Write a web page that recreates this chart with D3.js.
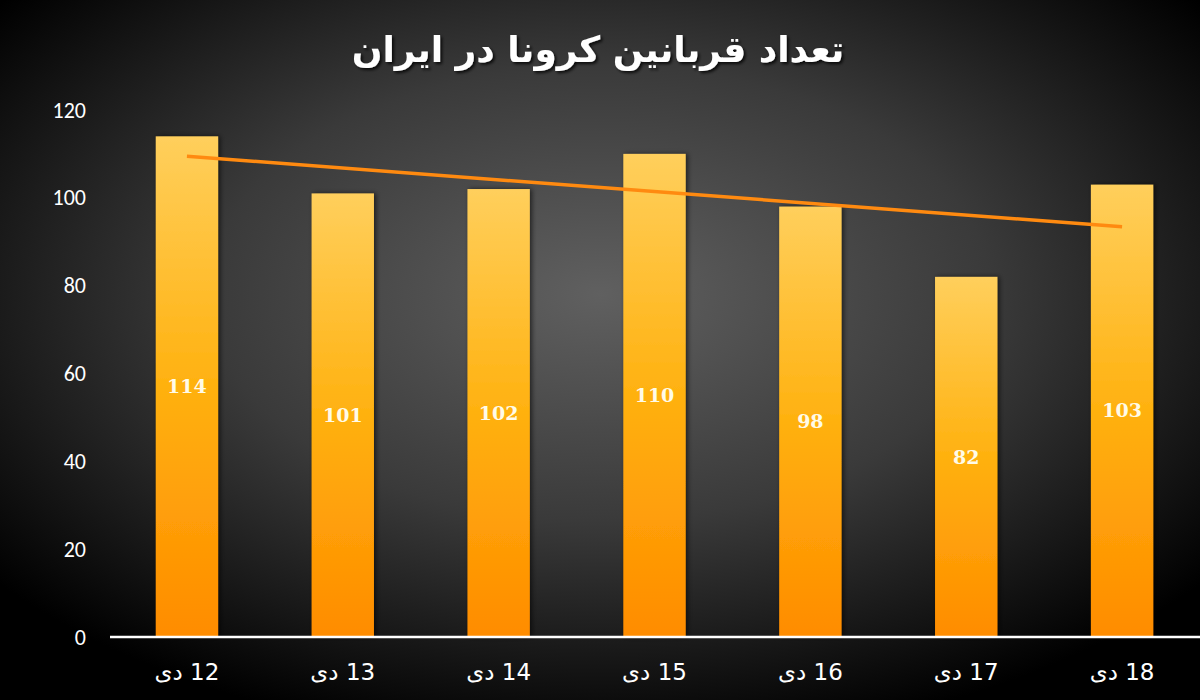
<!DOCTYPE html>
<html>
<head>
<meta charset="utf-8">
<script src="https://cdn.jsdelivr.net/npm/d3@7"></script>
<style>
  html, body { margin: 0; padding: 0; background: #000; }
  svg { display: block; }
</style>
</head>
<body>
<div id="chart"></div>
<script>
// data
const days = ['12 دی', '13 دی', '14 دی', '15 دی', '16 دی', '17 دی', '18 دی'];
const deaths = [114, 101, 102, 110, 98, 82, 103];
const yTicks = [0, 20, 40, 60, 80, 100, 120];
const title = 'تعداد قربانین کرونا در ایران';

const width = 1200;
const height = 700;

const svg = d3.select('#chart')
    .append('svg')
    .attr('width', width)
    .attr('height', height);

const defs = svg.append('defs');

const bg = defs.append('radialGradient')
    .attr('id', 'bg')
    .attr('cx', '50%').attr('cy', '42%')
    .attr('r', '65%');
bg.append('stop').attr('offset', '0%').attr('stop-color', '#606060');
bg.append('stop').attr('offset', '50%').attr('stop-color', '#3a3a3a');
bg.append('stop').attr('offset', '100%').attr('stop-color', '#000');

const barGrad = defs.append('linearGradient')
    .attr('id', 'barGrad')
    .attr('x1', 0).attr('y1', 0).attr('x2', 0).attr('y2', 1);
barGrad.append('stop').attr('offset', '0%').attr('stop-color', '#ffcf5c');
barGrad.append('stop').attr('offset', '50%').attr('stop-color', '#ffb10f');
barGrad.append('stop').attr('offset', '100%').attr('stop-color', '#ff8c00');

const shadow = defs.append('filter')
    .attr('id', 'shadow')
    .attr('x', '-20%').attr('y', '-20%')
    .attr('width', '140%').attr('height', '140%');
shadow.append('feDropShadow')
    .attr('dx', 2).attr('dy', 0)
    .attr('stdDeviation', 2.5)
    .attr('flood-color', '#000')
    .attr('flood-opacity', 0.6);

const textShadow = defs.append('filter').attr('id', 'textShadow');
textShadow.append('feDropShadow')
    .attr('dx', 2).attr('dy', 2)
    .attr('stdDeviation', 1.5)
    .attr('flood-color', '#000')
    .attr('flood-opacity', 0.8);

svg.append('rect')
    .attr('width', width)
    .attr('height', height)
    .attr('fill', 'url(#bg)');

const x = d3.scaleBand()
    .domain(days)
    .range([109, 1200])
    .paddingInner(0.6)
    .paddingOuter(0.3);

const y = d3.scaleLinear()
    .domain([0, 120])
    .range([637, 110]);

// y axis labels
const yAxis = svg.append('g')
    .attr('transform', 'translate(86,0)')
    .call(d3.axisLeft(y).tickValues(yTicks).tickSize(0).tickPadding(0));
yAxis.select('.domain').remove();
yAxis.selectAll('text')
    .attr('fill', '#fff')
    .style('font-family', 'Carlito, "Open Sans", sans-serif')
    .style('font-size', '22px');

// bars
svg.append('g')
    .selectAll('rect')
    .data(deaths)
    .join('rect')
    .attr('x', (d, i) => x(days[i]))
    .attr('y', d => y(d))
    .attr('width', x.bandwidth())
    .attr('height', d => y(0) - y(d))
    .attr('fill', 'url(#barGrad)')
    .attr('filter', 'url(#shadow)');

// value labels inside bars
svg.append('g')
    .selectAll('text')
    .data(deaths)
    .join('text')
    .attr('x', (d, i) => x(days[i]) + x.bandwidth() / 2)
    .attr('y', d => (y(d) + y(0)) / 2)
    .attr('dy', '0.35em')
    .attr('text-anchor', 'middle')
    .attr('fill', '#fffbe8')
    .style('font-family', '"DejaVu Serif", "Liberation Serif", serif')
    .style('font-weight', 'bold')
    .style('font-size', '19px')
    .text(d => d);

// linear trend line (least squares on the bars)
const n = deaths.length;
const xs = d3.range(1, n + 1);
const mx = d3.mean(xs);
const my = d3.mean(deaths);
const slope = d3.sum(xs, (v, i) => (v - mx) * (deaths[i] - my)) / d3.sum(xs, v => (v - mx) * (v - mx));
const intercept = my - slope * mx;
const trend = [xs[0], xs[n - 1]].map(v => ({ cat: days[v - 1], val: intercept + slope * v }));

svg.append('path')
    .datum(trend)
    .attr('fill', 'none')
    .attr('stroke', '#ff8a10')
    .attr('stroke-width', 3.5)
    .attr('d', d3.line()
        .x(d => x(d.cat) + x.bandwidth() / 2)
        .y(d => y(d.val)));

// x axis
const xAxis = svg.append('g')
    .attr('transform', `translate(0,${y(0)})`)
    .call(d3.axisBottom(x).tickSize(0).tickPadding(27));
xAxis.select('.domain')
    .attr('stroke', '#fff')
    .attr('stroke-width', 2.5)
    .attr('d', `M110,0H1200`);
xAxis.selectAll('text')
    .attr('fill', '#fff')
    .attr('direction', 'rtl')
    .style('font-family', '"DejaVu Sans", sans-serif')
    .style('font-size', '23px');

// title
svg.append('text')
    .attr('x', 598)
    .attr('y', 62)
    .attr('text-anchor', 'middle')
    .attr('direction', 'rtl')
    .attr('fill', '#fff')
    .attr('filter', 'url(#textShadow)')
    .style('font-family', '"DejaVu Sans", sans-serif')
    .style('font-weight', 'bold')
    .style('font-size', '36px')
    .text(title);
</script>
</body>
</html>
